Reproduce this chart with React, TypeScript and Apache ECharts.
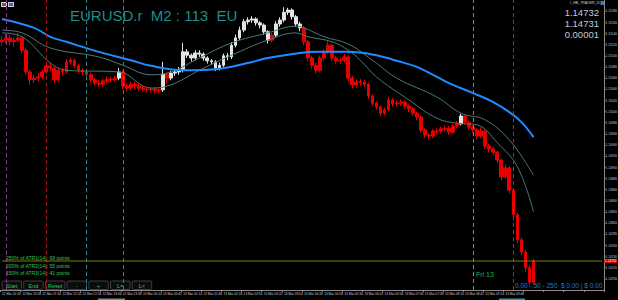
import React, { useEffect, useRef } from 'react';
import * as echarts from 'echarts';

const categoryCount = 150;

const timeLabels = [
  '12 Mar 20:26', '12 Mar 20:58', '12 Mar 21:30', '12 Mar 22:02', '12 Mar 22:34', '12 Mar 23:06',
  '12 Mar 23:38', '13 Mar 00:10', '13 Mar 00:42', '13 Mar 01:14', '13 Mar 01:46', '13 Mar 02:18',
  '13 Mar 02:50', '13 Mar 03:22', '13 Mar 03:54', '13 Mar 04:26', '13 Mar 04:58', '13 Mar 05:30',
  '13 Mar 06:02', '13 Mar 06:34', '13 Mar 07:06', '13 Mar 07:38', '13 Mar 08:10', '13 Mar 08:42',
  '13 Mar 09:14', '13 Mar 09:46',
];

const opens = [
  1.15125, 1.15128, 1.15132, 1.15125, 1.15128, 1.15132, 1.1511, 1.15071, 1.15057, 1.1506,
  1.15062, 1.15071, 1.15082, 1.15078, 1.15057, 1.15074, 1.15071, 1.15089, 1.15092, 1.15082,
  1.15074, 1.15071, 1.15066, 1.15057, 1.15051, 1.15049, 1.15055, 1.15058, 1.15057, 1.1506,
  1.15071, 1.15046, 1.15042, 1.15049, 1.15046, 1.15042, 1.1504, 1.15039, 1.1504, 1.15037,
  1.15039, 1.15067, 1.1506, 1.15069, 1.15071, 1.15074, 1.15107, 1.15101, 1.15096, 1.15105,
  1.15103, 1.15096, 1.15091, 1.15089, 1.15078, 1.15083, 1.151, 1.15098, 1.15119, 1.15132,
  1.15146, 1.15161, 1.15164, 1.15166, 1.15159, 1.15155, 1.15143, 1.15128, 1.15137, 1.15157,
  1.15164, 1.15178, 1.15182, 1.1517, 1.15157, 1.1515, 1.15125, 1.15096, 1.15083, 1.15074,
  1.15096, 1.15107, 1.15119, 1.15096, 1.15091, 1.15092, 1.15098, 1.1506, 1.15048, 1.15053,
  1.15053, 1.15049, 1.15028, 1.15015, 1.15008, 1.14997, 1.15003, 1.15021, 1.15014, 1.15015,
  1.15017, 1.1501, 1.15005, 1.14997, 1.1499, 1.14967, 1.14958, 1.14956, 1.14965, 1.14965,
  1.14969, 1.1497, 1.14963, 1.14974, 1.14978, 1.14992, 1.14981, 1.14972, 1.14967, 1.14956,
  1.14965, 1.14938, 1.14933, 1.14927, 1.14913, 1.14883, 1.14899, 1.14859, 1.14815, 1.1477,
  1.14748, 1.1472, 1.14694,
];

const closes = [
  1.15128, 1.15132, 1.15125, 1.15128, 1.15132, 1.1511, 1.15071, 1.15057, 1.1506, 1.15062,
  1.15071, 1.15082, 1.15078, 1.15057, 1.15074, 1.15071, 1.15089, 1.15092, 1.15082, 1.15074,
  1.15071, 1.15066, 1.15057, 1.15051, 1.15049, 1.15055, 1.15058, 1.15057, 1.1506, 1.15071,
  1.15046, 1.15042, 1.15049, 1.15046, 1.15042, 1.1504, 1.15039, 1.1504, 1.15037, 1.15039,
  1.15067, 1.1506, 1.15069, 1.15071, 1.15074, 1.15107, 1.15101, 1.15096, 1.15105, 1.15103,
  1.15096, 1.15091, 1.15089, 1.15078, 1.15083, 1.151, 1.15098, 1.15119, 1.15132, 1.15146,
  1.15161, 1.15164, 1.15166, 1.15159, 1.15155, 1.15143, 1.15128, 1.15137, 1.15157, 1.15164,
  1.15178, 1.15182, 1.1517, 1.15157, 1.1515, 1.15125, 1.15096, 1.15083, 1.15074, 1.15096,
  1.15107, 1.15119, 1.15096, 1.15091, 1.15092, 1.15098, 1.1506, 1.15048, 1.15053, 1.15053,
  1.15049, 1.15028, 1.15015, 1.15008, 1.14997, 1.15003, 1.15021, 1.15014, 1.15015, 1.15017,
  1.1501, 1.15005, 1.14997, 1.1499, 1.14967, 1.14958, 1.14956, 1.14965, 1.14965, 1.14969,
  1.1497, 1.14963, 1.14974, 1.14978, 1.14992, 1.14981, 1.14972, 1.14967, 1.14956, 1.14965,
  1.14938, 1.14933, 1.14927, 1.14913, 1.14883, 1.14899, 1.14859, 1.14815, 1.1477, 1.14748,
  1.1472, 1.14694, 1.14732,
];

const lows = [
  1.15118, 1.15122, 1.15119, 1.15116, 1.15124, 1.15104, 1.15066, 1.15048, 1.15051, 1.15054,
  1.15058, 1.15067, 1.15072, 1.1505, 1.15053, 1.15065, 1.15068, 1.15084, 1.15077, 1.15069,
  1.15065, 1.1506, 1.15052, 1.15046, 1.15044, 1.15045, 1.15051, 1.15052, 1.15053, 1.15056,
  1.1504, 1.15036, 1.15038, 1.15041, 1.15037, 1.15035, 1.15034, 1.15034, 1.15032, 1.15033,
  1.15035, 1.15049, 1.15056, 1.15064, 1.15066, 1.1507, 1.15096, 1.1509, 1.15092, 1.15098,
  1.15091, 1.15086, 1.15084, 1.15073, 1.15074, 1.1508, 1.15092, 1.15094, 1.15115, 1.15128,
  1.15142, 1.15156, 1.15159, 1.15154, 1.15149, 1.15138, 1.15122, 1.15124, 1.15133, 1.15152,
  1.1516, 1.15173, 1.15165, 1.15152, 1.15144, 1.15119, 1.1509, 1.15077, 1.15068, 1.1507,
  1.15092, 1.15103, 1.1509, 1.15086, 1.15085, 1.15088, 1.15054, 1.15042, 1.15043, 1.15047,
  1.15044, 1.15023, 1.1501, 1.15003, 1.14992, 1.14993, 1.15, 1.15009, 1.15009, 1.1501,
  1.15005, 1.14999, 1.14992, 1.14985, 1.14962, 1.14953, 1.1495, 1.14952, 1.1496, 1.14961,
  1.14964, 1.14958, 1.1496, 1.1497, 1.14975, 1.14976, 1.14967, 1.14962, 1.14951, 1.14952,
  1.14933, 1.14927, 1.14921, 1.14907, 1.14877, 1.14879, 1.14853, 1.14808, 1.14764, 1.14742,
  1.14712, 1.14688, 1.1469,
];

const highs = [
  1.15136, 1.15139, 1.15137, 1.15134, 1.15141, 1.15136, 1.15114, 1.15075, 1.15066, 1.15069,
  1.15076, 1.15087, 1.15088, 1.15081, 1.15079, 1.15078, 1.15094, 1.15097, 1.15095, 1.15085,
  1.15078, 1.15075, 1.1507, 1.15061, 1.15056, 1.15059, 1.15063, 1.15062, 1.15064, 1.15078,
  1.15074, 1.1505, 1.15053, 1.15053, 1.1505, 1.15046, 1.15045, 1.15044, 1.15044, 1.15043,
  1.15089, 1.1507, 1.15073, 1.15076, 1.1508, 1.15123, 1.15112, 1.15104, 1.1511, 1.1511,
  1.15106, 1.15099, 1.15094, 1.15092, 1.15088, 1.15104, 1.15105, 1.15124, 1.15138, 1.15152,
  1.15166, 1.15169, 1.15171, 1.15169, 1.15162, 1.15158, 1.15146, 1.15141, 1.15162, 1.15169,
  1.15187, 1.15186, 1.15185, 1.15173, 1.15161, 1.15153, 1.15128, 1.151, 1.15087, 1.151,
  1.15112, 1.15126, 1.15122, 1.151, 1.15097, 1.15103, 1.15101, 1.15064, 1.15058, 1.15058,
  1.15057, 1.15052, 1.15031, 1.15018, 1.15011, 1.15007, 1.15026, 1.15024, 1.1502, 1.15022,
  1.1502, 1.15013, 1.15008, 1.15, 1.14993, 1.1497, 1.14962, 1.14969, 1.1497, 1.14973,
  1.14975, 1.14974, 1.14978, 1.14983, 1.14996, 1.14995, 1.14984, 1.14975, 1.1497, 1.14972,
  1.14968, 1.14942, 1.14937, 1.1493, 1.14916, 1.14905, 1.14902, 1.14862, 1.14818, 1.14774,
  1.14752, 1.14724, 1.14736,
];

// candles drawn in the "up-trend" (white) colour
const lightCandles = [
  29, 40, 42, 43, 44, 45, 46, 47, 48, 49, 50, 51, 52, 53, 54, 55, 56, 57, 58, 59, 60, 61, 62, 63,
  64, 65, 66, 68, 69, 70, 71, 72, 73, 74, 114,
];

const blueMaIdx = [0, 8, 12, 16, 24, 32, 37, 45, 53, 61, 66, 74, 78, 86, 93, 98, 103, 108, 111, 117, 122, 126, 129, 132];
const blueMa = [
  1.15166, 1.1515, 1.15134, 1.15125, 1.15107, 1.15092, 1.15082, 1.15074, 1.15076, 1.15087, 1.15096, 1.15105,
  1.15107, 1.15107, 1.15101, 1.15091, 1.1508, 1.15062, 1.15051, 1.15033, 1.15017, 1.14999, 1.14981, 1.14954,
];

const slowMaIdx = [0, 5, 12, 24, 30, 37, 42, 49, 57, 66, 73, 75, 80, 86, 92, 98, 108, 114, 120, 126, 132];
const slowMa = [
  1.15146, 1.15141, 1.15114, 1.15098, 1.15083, 1.15066, 1.15071, 1.15096, 1.15123, 1.15141, 1.15153,
  1.1515, 1.15134, 1.15121, 1.15092, 1.1506, 1.15026, 1.14997, 1.14985, 1.14949, 1.14886,
];

const fastMaIdx = [0, 5, 12, 16, 29, 37, 42, 49, 57, 66, 73, 76, 82, 86, 89, 93, 101, 108, 113, 118, 123, 128, 132];
const fastMa = [
  1.15141, 1.15134, 1.15087, 1.15074, 1.15071, 1.15042, 1.15048, 1.15074, 1.15101, 1.15128, 1.15141,
  1.15134, 1.15125, 1.1511, 1.15092, 1.15062, 1.15021, 1.14988, 1.14979, 1.14976, 1.14944, 1.14901, 1.1482,
];

const separatorIdx = [1, 11, 21, 30, 117, 127];
const separatorColors = ['#8e2f96', '#a8161a', '#2b8787', '#2b8787', '#9a8726', '#1f5c9c'];

const bidPrice = 1.14732;
const priceInfo = ['1.14732', '1.14731', '0.00001'];
const atrLines = ['250% of ATR1(14): 69 points', '200% of ATR2(14): 55 points', '150% of ATR3(14): 41 points'];
const buttonLabels = ['Start', 'End', 'Reset', '-', '+', 'L=', 'L<'];

export default function App() {
  const ref = useRef<HTMLDivElement>(null);

  useEffect(() => {
    document.body.style.margin = '0';
    document.body.style.background = '#000';
    const chart = echarts.init(ref.current as HTMLDivElement, null, { renderer: 'svg' });

    const categories = Array.from({ length: categoryCount }, (_, i) => 'b' + i);
    const lightSet = new Set(lightCandles);
    const candleData = closes.map((c, i) => {
      const col = lightSet.has(i) ? '#e4e4e4' : '#e80000';
      return {
        value: [opens[i], c, lows[i], highs[i]],
        itemStyle: { color: col, color0: col, borderColor: col, borderColor0: col, borderWidth: 1 },
      };
    });

    const pair = (idx: number[], vals: number[]) => idx.map((x, k) => [x, vals[k]]);

    const graphics: any[] = [];
    // top-left icons
    graphics.push({ type: 'rect', shape: { x: 1, y: 2, width: 6, height: 5 }, style: { fill: '#d8d8d8' } });
    graphics.push({ type: 'rect', shape: { x: 2, y: 3, width: 4, height: 3 }, style: { fill: '#606060' } });
    graphics.push({ type: 'rect', shape: { x: 8, y: 2, width: 6, height: 5 }, style: { fill: '#c8d0e0' } });
    graphics.push({ type: 'rect', shape: { x: 9, y: 3, width: 4, height: 3 }, style: { fill: '#3a6ab0' } });
    // title
    graphics.push({
      type: 'text', x: 70, y: 15,
      style: { text: 'EURUSD.r  M2 : 113  EU', fill: '#1f8e8d', font: '15px "Liberation Sans", Arial, sans-serif', textVerticalAlign: 'middle' },
    });
    // top-right id label
    graphics.push({
      type: 'text', x: 600, y: 3,
      style: { text: '#_HB_TRADER_ID', fill: '#d0d0d0', font: '3.5px "Liberation Sans", Arial, sans-serif', textAlign: 'right', textVerticalAlign: 'middle' },
    });
    graphics.push({ type: 'rect', shape: { x: 600.5, y: 1, width: 3.5, height: 4 }, style: { fill: '#3a7ad0' } });
    priceInfo.forEach((t, k) => {
      graphics.push({
        type: 'text', x: 599, y: 12 + k * 11,
        style: { text: t, fill: '#c2c9d8', font: '9.5px "Liberation Sans", Arial, sans-serif', textAlign: 'right', textVerticalAlign: 'middle' },
      });
    });
    atrLines.forEach((t, k) => {
      graphics.push({
        type: 'text', x: 6, y: 258 + k * 7.7,
        style: { text: t, fill: '#2fc45a', font: '5px "Liberation Sans", Arial, sans-serif', textVerticalAlign: 'middle' },
      });
    });
    buttonLabels.forEach((t, k) => {
      const bx = 2 + k * 21.7;
      graphics.push({
        type: 'rect', shape: { x: bx, y: 281, width: 19.5, height: 8.5, r: 1 },
        style: { fill: '#0c0c0c', stroke: '#3e3e3e', lineWidth: 1 },
      });
      graphics.push({
        type: 'text', x: bx + 9.75, y: 285.5,
        style: { text: t, fill: '#33c85c', font: '5.5px "Liberation Sans", Arial, sans-serif', textAlign: 'center', textVerticalAlign: 'middle' },
      });
    });
    graphics.push({
      type: 'text', x: 476, y: 274,
      style: { text: 'Fri 13', fill: '#22b24a', font: '7px "Liberation Sans", Arial, sans-serif', textVerticalAlign: 'middle' },
    });
    graphics.push({
      type: 'text', x: 515, y: 285,
      style: { text: '0.00 - 50 - 250  $ 0.00 | $ 0.00', fill: '#2a78cc', font: '6.5px "Liberation Sans", Arial, sans-serif', textVerticalAlign: 'middle' },
    });
    // scroll position markers on time scale
    graphics.push({ type: 'rect', shape: { x: 98, y: 298.5, width: 27, height: 1.5 }, style: { fill: '#8a8a8a' } });
    graphics.push({ type: 'rect', shape: { x: 499, y: 298.5, width: 26, height: 1.5 }, style: { fill: '#2aa0b0' } });

    const sepLines = separatorIdx.map((x, k) => ({
      xAxis: x,
      lineStyle: { color: separatorColors[k], type: [4, 3], width: 1 },
      label: { show: false },
    }));

    chart.setOption({
      animation: false,
      backgroundColor: '#000000',
      grid: { left: 0, right: 14, top: 0, bottom: 10, containLabel: false, outerBoundsMode: 'none' },
      xAxis: {
        type: 'category',
        data: categories,
        boundaryGap: true,
        axisLine: { lineStyle: { color: '#8c8c8c', width: 1 } },
        axisTick: { show: true, interval: 4, length: 2, lineStyle: { color: '#8c8c8c' } },
        axisLabel: {
          interval: 4,
          color: '#c8c8c8',
          fontSize: 3.2,
          align: 'left',
          margin: 2.5,
          fontFamily: '"Liberation Sans", Arial, sans-serif',
          formatter: (_v: string, idx: number) => timeLabels[idx / 5] ?? '',
        },
        splitLine: { show: false },
      },
      yAxis: {
        type: 'value',
        position: 'right',
        min: 1.1468,
        max: 1.152,
        interval: 0.0002,
        axisLine: { show: true, lineStyle: { color: '#8c8c8c', width: 1 } },
        axisTick: { show: true, length: 1.5, lineStyle: { color: '#8c8c8c' } },
        axisLabel: {
          color: '#c8c8c8',
          fontSize: 3.2,
          margin: 1.5,
          showMinLabel: false,
          showMaxLabel: false,
          fontFamily: '"Liberation Sans", Arial, sans-serif',
          formatter: (v: number) => v.toFixed(5),
        },
        splitLine: { show: false },
      },
      graphic: graphics,
      series: [
        {
          type: 'candlestick',
          data: candleData,
          barWidth: 3.3,
          z: 2,
          markLine: {
            silent: true,
            symbol: ['none', 'none'],
            animation: false,
            data: sepLines,
          },
        },
        {
          type: 'line', data: pair(slowMaIdx, slowMa), smooth: 0.4, symbol: 'none', z: 3,
          lineStyle: { color: '#4a7a74', width: 1 },
        },
        {
          type: 'line', data: pair(fastMaIdx, fastMa), smooth: 0.4, symbol: 'none', z: 3,
          lineStyle: { color: '#4a7a74', width: 1 },
        },
        {
          type: 'line', data: pair(blueMaIdx, blueMa), smooth: 0.4, symbol: 'none', z: 4,
          lineStyle: { color: '#1e8cff', width: 2 },
        },
        {
          type: 'line',
          data: [[0, bidPrice], [categoryCount - 1, bidPrice]],
          symbol: 'none',
          silent: true,
          z: 5,
          lineStyle: { color: '#7c7c00', width: 1 },
          endLabel: {
            show: true,
            formatter: '1.14732',
            color: '#ffffff',
            backgroundColor: '#d80000',
            fontSize: 3.2,
            padding: [0.5, 0.5],
            distance: 2.5,
            fontFamily: '"Liberation Sans", Arial, sans-serif',
          },
        },
      ],
    });

    return () => chart.dispose();
  }, []);

  return <div ref={ref} style={{ width: 618, height: 300, background: '#000' }} />;
}
